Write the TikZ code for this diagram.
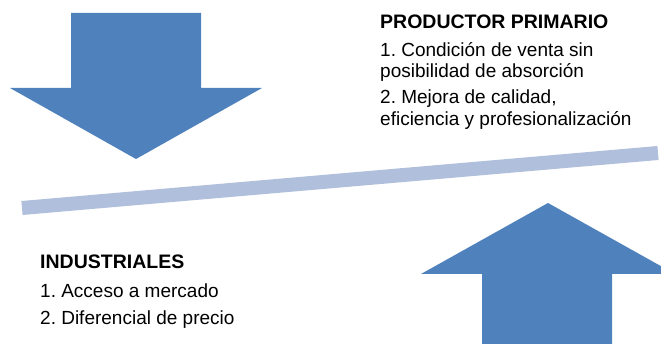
\documentclass[tikz,border=0pt]{standalone}
\usepackage{fontspec}
\setmainfont{Liberation Sans}
\definecolor{arrowblue}{RGB}{79,129,189}
\definecolor{barblue}{RGB}{176,192,220}
\frenchspacing
\begin{document}
\begin{tikzpicture}[x=1pt,y=-1pt,
  bigarrow/.style={fill=arrowblue,draw=none},
  txt/.style={anchor=base west,inner sep=0pt,font=\fontsize{19}{22}\selectfont},
  hd/.style={txt,font=\fontsize{19.5}{22}\selectfont\bfseries}]
\clip (0,0) rectangle (661,344);
\fill[white] (0,0) rectangle (661,344);
% down arrow
\fill[bigarrow] (71,13) -- (201,13) -- (201,88) -- (262,88) -- (136,159) -- (10,88) -- (71,88) -- cycle;
% up arrow
\fill[bigarrow] (548,203) -- (675,274) -- (612,274) -- (612,350) -- (482,350) -- (482,274) -- (421,274) -- cycle;
% bar
\coordinate (barL) at (22,208);
\coordinate (barR) at (658,153);
\draw[barblue,line width=14pt] (barL) -- (barR);
% texts
\node[hd] (pp) at (380,29) {PRODUCTOR PRIMARIO};
\node[txt] (pp1) at (380,57) {1. Condición de venta sin};
\node[txt] (pp1b) at (380,78) {posibilidad de absorción};
\node[txt] (pp2) at (380,104) {2. Mejora de calidad,};
\node[txt] (pp2b) at (380,126) {eficiencia y profesionalización};
\node[hd] (ind) at (40,269) {INDUSTRIALES};
\node[txt] (ind1) at (40,298) {1. Acceso a mercado};
\node[txt] (ind2) at (40,325) {2. Diferencial de precio};
\end{tikzpicture}
\end{document}
